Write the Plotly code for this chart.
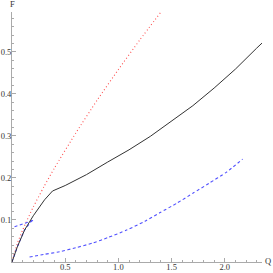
import plotly.graph_objects as go

# Black solid curve
black_q = [0, 0.05, 0.118, 0.2, 0.306, 0.381, 0.5, 0.7, 0.9, 1.1, 1.3, 1.5, 1.7, 1.9, 2.1, 2.3, 2.35]
black_f = [0, 0.036, 0.076, 0.110, 0.148, 0.169, 0.182, 0.208, 0.238, 0.267, 0.299, 0.335, 0.372, 0.414, 0.459, 0.509, 0.521]

# Red dotted curve
red_q = [0, 0.05, 0.1, 0.2, 0.3, 0.4, 0.6, 0.8, 1.0, 1.2, 1.4]
red_f = [0, 0.044, 0.076, 0.131, 0.179, 0.224, 0.307, 0.385, 0.458, 0.528, 0.595]

# Blue dashed curves
blue_q = [0.165, 0.3, 0.447, 0.6, 0.757, 0.9, 1.077, 1.25, 1.388, 1.55, 1.703, 1.85, 2.017, 2.168]
blue_f = [0.012, 0.018, 0.0245, 0.034, 0.045, 0.058, 0.076, 0.097, 0.117, 0.140, 0.164, 0.187, 0.214, 0.245]
blue2_q = [0, 0.05, 0.118, 0.19]
blue2_f = [0, 0.036, 0.076, 0.100]
blue3_q = [0.024, 0.1, 0.212]
blue3_f = [0.084, 0.090, 0.100]

x_ticks = [0.5, 1.0, 1.5, 2.0]
x_tick_labels = ["0.5", "1.0", "1.5", "2.0"]
y_ticks = [0.1, 0.2, 0.3, 0.4, 0.5]
y_tick_labels = ["0.1", "0.2", "0.3", "0.4", "0.5"]

fig = go.Figure()
fig.add_trace(go.Scatter(x=red_q, y=red_f, mode="lines",
                         line=dict(color="#ff5050", width=1.1, dash="1px,2.5px",
                                   shape="spline", smoothing=0.6)))
fig.add_trace(go.Scatter(x=blue_q, y=blue_f, mode="lines",
                         line=dict(color="#5050ff", width=1.1, dash="3px,2.5px",
                                   shape="spline", smoothing=0.6)))
fig.add_trace(go.Scatter(x=blue2_q, y=blue2_f, mode="lines",
                         line=dict(color="#5050ff", width=1.1, dash="3px,2.5px")))
fig.add_trace(go.Scatter(x=blue3_q, y=blue3_f, mode="lines",
                         line=dict(color="#5050ff", width=1.1, dash="3px,2.5px")))
fig.add_trace(go.Scatter(x=black_q, y=black_f, mode="lines",
                         line=dict(color="#333333", width=1.0)))

font = dict(family="Liberation Serif", size=8.5, color="#333333")

fig.update_layout(
    width=273, height=273,
    margin=dict(l=12, r=11, t=12, b=11),
    paper_bgcolor="white", plot_bgcolor="white",
    showlegend=False,
    font=font,
    xaxis=dict(range=[0, 2.35], showgrid=False, zeroline=False, automargin=False,
               showline=True, linecolor="#aaaaaa", linewidth=1,
               ticks="inside", ticklen=4, tickcolor="#aaaaaa",
               ticklabelstandoff=-3,
               tickvals=x_ticks, ticktext=x_tick_labels, tickfont=font,
               minor=dict(dtick=0.1, ticks="inside", ticklen=2, tickcolor="#aaaaaa")),
    yaxis=dict(range=[0, 0.595], showgrid=False, zeroline=False, automargin=False,
               showline=True, linecolor="#aaaaaa", linewidth=1,
               ticks="inside", ticklen=4, tickcolor="#aaaaaa",
               ticklabelstandoff=-2,
               tickvals=y_ticks, ticktext=y_tick_labels, tickfont=font,
               minor=dict(dtick=0.02, ticks="inside", ticklen=2, tickcolor="#aaaaaa")),
    annotations=[
        dict(text="Q", xref="paper", yref="paper", x=1.0, y=0.0, xshift=6, yshift=1,
             showarrow=False, font=font, xanchor="center", yanchor="middle"),
        dict(text="F", xref="paper", yref="paper", x=0.0, y=1.0, xshift=0, yshift=8,
             showarrow=False, font=font, xanchor="center", yanchor="middle"),
    ],
)

fig.write_html("out.html", config={"displayModeBar": False},
               post_script="document.body.style.margin='0';")
